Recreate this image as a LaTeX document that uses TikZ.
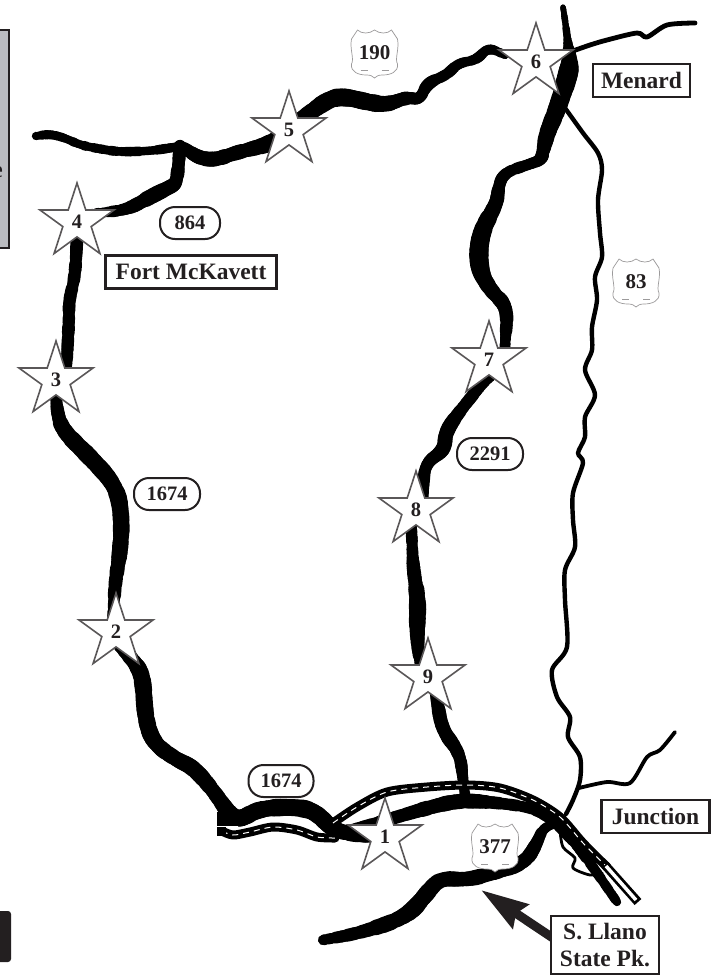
\documentclass[tikz,border=0pt]{standalone}
\usepackage{fontspec}
\setmainfont{Liberation Serif}
\usetikzlibrary{shapes.geometric,arrows.meta}
\definecolor{ink}{HTML}{231F20}
\definecolor{panel}{HTML}{BBBCC0}
\tikzset{
  site/.style={star,star points=5,star point ratio=2.618,minimum size=78pt,inner sep=0pt,
    draw=ink!75,line width=1.6pt,fill=white,text=ink,font=\bfseries\fontsize{20.5}{22}\selectfont},
  place/.style={rectangle,draw=ink,line width=2.4pt,fill=white,text=ink,inner sep=0pt,align=center,
    font=\bfseries\fontsize{23.5}{28}\selectfont},
  farm/.style={rectangle,rounded corners=15pt,draw=ink,line width=2pt,fill=white,text=ink,inner sep=0pt,
    minimum height=32pt,font=\bfseries\fontsize{20.5}{22}\selectfont},
  usnum/.style={text=ink,inner sep=0pt,font=\bfseries\fontsize{21}{22}\selectfont},
  shieldline/.style={draw=ink!45,line width=.7pt,fill=white},
  thinroad/.style={draw=black,line width=#1,line cap=round,line join=round},
  trackwhite/.style={draw=white,line width=1pt,dash pattern=on 6pt off 5pt},
}
\newcommand{\num}[1]{\raisebox{-2.5pt}{#1}}
% variable-width smooth road: list of x/y/w
\def\vempty{}
\pgfmathsetseed{7}
\newcommand{\vseg}[3]{%
  \pgfmathsetmacro\mox{(\ax+\bx)/2}\pgfmathsetmacro\moy{(\ay+\by)/2}\pgfmathsetmacro\mow{(\aw+\bw)/2}%
  \pgfmathsetmacro\mtx{(\bx+#1)/2}\pgfmathsetmacro\mty{(\by+#2)/2}\pgfmathsetmacro\mtw{(\bw+#3)/2}%
  \foreach \ii in {1,...,6}{%
    \pgfmathsetmacro\ta{(\ii-1)/6}\pgfmathsetmacro\tb{\ii/6}%
    \pgfmathsetmacro\xs{(1-\ta)*(1-\ta)*\mox+2*(1-\ta)*\ta*\bx+\ta*\ta*\mtx}%
    \pgfmathsetmacro\ys{(1-\ta)*(1-\ta)*\moy+2*(1-\ta)*\ta*\by+\ta*\ta*\mty}%
    \pgfmathsetmacro\xe{(1-\tb)*(1-\tb)*\mox+2*(1-\tb)*\tb*\bx+\tb*\tb*\mtx}%
    \pgfmathsetmacro\ye{(1-\tb)*(1-\tb)*\moy+2*(1-\tb)*\tb*\by+\tb*\tb*\mty}%
    \pgfmathsetmacro\wv{1.1*((1-\tb)*(1-\tb)*\mow+2*(1-\tb)*\tb*\bw+\tb*\tb*\mtw)+0.3+1.6*rnd}%
    \draw[black,line width=\wv pt,line cap=round] (\xs,\ys) -- (\xe,\ye);
  }%
}
\newcommand{\vroad}[1]{%
  \gdef\bx{}%
  \foreach \px/\py/\pw in {#1}{%
    \ifx\bx\vempty
      \xdef\ax{\px}\xdef\ay{\py}\xdef\aw{\pw}\xdef\bx{\px}\xdef\by{\py}\xdef\bw{\pw}%
    \else
      \vseg{\px}{\py}{\pw}%
      \xdef\ax{\bx}\xdef\ay{\by}\xdef\aw{\bw}\xdef\bx{\px}\xdef\by{\py}\xdef\bw{\pw}%
    \fi
  }%
  \vseg{\bx}{\by}{\bw}%
}
\newcommand{\shield}[4]{% name, x, y, text
  \begin{scope}[shift={(#2,#3)}]
    \path[shieldline] (-23,-15) .. controls (-21,-18) and (-19,-21) .. (-17,-24)
      .. controls (-13,-20) and (-5,-20) .. (0,-24)
      .. controls (5,-20) and (13,-20) .. (17,-24)
      .. controls (19,-21) and (21,-18) .. (23,-15)
      .. controls (25,-5) and (20,5) .. (23,10)
      .. controls (24,18) and (16,21) .. (8,21)
      .. controls (4,21) and (2,22) .. (0,24)
      .. controls (-2,22) and (-4,21) .. (-8,21)
      .. controls (-16,21) and (-24,18) .. (-23,10)
      .. controls (-20,5) and (-25,-5) .. (-23,-15) -- cycle;
    \draw[ink!45,line width=.8pt] (-14,16) -- (-7,16) (7,16) -- (14,16);
    \node[usnum] (#1) at (0,-1) {#4};
  \end{scope}
}
\begin{document}
\begin{tikzpicture}[x=1pt,y=-1pt]
\useasboundingbox (0,0) rectangle (715,975);
\fill[white] (0,0) rectangle (715,975);
% side panel and bar
\draw[ink,line width=2pt,fill=panel] (-4,30) rectangle (9,248);
\node[text=ink,inner sep=0pt,anchor=east,font=\bfseries\fontsize{23.5}{28}\selectfont] (cut) at (3,172) {e};
\fill[ink,rounded corners=3pt] (-6,911) rectangle (11,962);
% thin roads
\draw[thinroad=4.4pt] plot[smooth,tension=.5] coordinates {(565,108)(583,133)(598,153)(602,170)(598,200)(600,233)(602,257)(595,277)(597,300)(592,327)(592,350)(585,370)(595,395)(585,417)(585,437)(578,453)(583,463)(573,493)(573,520)(575,547)(565,570)(565,600)(567,647)(552,670)(557,697)(570,717)(568,737)(580,757)(580,780)(573,800)(566,814)};
\draw[thinroad=3.8pt] plot[smooth,tension=.5] coordinates {(579,788)(607,782)(630,783)(647,757)(660,750)(675,732)};
\draw[thinroad=4.8pt] plot[smooth,tension=.5] coordinates {(570,52)(590,45)(607,40)(637,33)(647,37)(667,25)(695,23)};
\draw[thinroad=2.8pt] plot[smooth,tension=.5] coordinates {(560,830)(563,847)(575,858)(573,868)(590,875)(602,873)};
% US 190
\vroad{36/136/6, 50/134/7, 65/138/7, 80/145/7, 100/149/7, 120/152/7, 150/151/7, 170/148/7, 182/146/8, 190/152/10, 200/158/12, 215/160/12, 235/153/12, 255/148/12, 272/143/14, 303/118/13, 330/98/15, 347/97/15, 367/102/15, 387/105/13, 407/97/11, 420/100/9, 427/83/10, 447/75/9, 458/63/8, 477/60/8, 488/47/9, 505/55/6}
% RM 864
\vroad{180/146/10, 177/183/11, 170/187/12, 150/197/13, 127/210/10, 97/213/8, 85/216/8}
% left road
\vroad{77/225/9, 77/240/10, 75/277/10, 69/300/10, 69/320/10, 67/357/10, 67/370/8}
\vroad{56/395/9, 57/410/10, 62/430/13, 90/457/15, 117/487/14, 122/520/14, 120/553/13, 115/583/11, 113/620/9}
\vroad{118/645/8, 135/662/13, 143/677/14, 145/717/14, 153/743/14, 177/760/12, 193/767/14, 213/790/12, 230/815/14, 240/820/14, 260/808/14, 300/807/15, 317/813/14, 333/830/14, 357/835/12, 372/838/8}
\fill[black] (217,812) rectangle (245,826);
% east road through 6, 7, 8, 9
\vroad{563/7/4, 565/20/5, 568/43/6, 570/63/14, 568/75/18, 557/110/15, 547/133/14, 543/152/11, 541/160/10, 530/164/9, 503/173/9, 498/190/10, 497/203/12, 480/233/15, 478/267/17, 490/290/12, 508/307/12, 505/343/9, 505/355/8}
\vroad{498/370/6, 483/383/9, 463/407/10, 445/432/13, 445/450/12, 425/463/10, 423/490/10, 423/500/9}
\vroad{411/525/9, 412/540/9, 413/567/10, 418/600/14, 417/627/14, 418/650/10, 420/665/8}
\vroad{432/680/8, 437/700/10, 442/730/12, 460/753/11, 463/780/9, 465/795/8}
% main arc
\vroad{345/832/10, 397/817/10, 427/808/12, 460/800/13, 500/803/10, 533/808/9, 553/820/9, 573/840/9, 593/867/8, 617/902/7}
% S. Llano road
\vroad{323/940/8, 360/933/11, 407/917/14, 427/893/14, 440/878/12, 467/880/13, 493/873/12, 525/863/12, 537/843/11, 543/828/8, 557/823/6}
% double tracks
\draw[thinroad=9pt] plot[smooth,tension=.5] coordinates {(333,823)(357,807)(387,792)(427,787)(467,785)(500,788)(533,800)(560,817)(583,843)(607,867)};
\draw[trackwhite] plot[smooth,tension=.5] coordinates {(333,823)(357,807)(387,792)(427,787)(467,785)(500,788)(533,800)(560,817)(583,843)(607,867)};
\draw[thinroad=9pt] plot[smooth,tension=.5] coordinates {(222,831)(233,835)(250,832)(273,827)(297,830)(317,837)(335,838)};
\draw[trackwhite] plot[smooth,tension=.5] coordinates {(222,831)(233,835)(250,832)(273,827)(297,830)(317,837)(335,838)};
\fill[black] (217,827) rectangle (226,836);
\draw[white,line width=1.2pt] (217,826.5) -- (238,826.5);
\draw[black,line width=9pt] (605,865) -- (638,902);
\draw[white,line width=3.5pt] (606,866) -- (636,900);
% stars
\node[site] (s1) at (385,837) {\num{1}};
\node[site] (s2) at (116,632) {\num{2}};
\node[site] (s3) at (56,380) {\num{3}};
\node[site] (s4) at (77,222) {\num{4}};
\node[site] (s5) at (289,130) {\num{5}};
\node[site] (s6) at (536,62) {\num{6}};
\node[site] (s7) at (489,360) {\num{7}};
\node[site] (s8) at (416,510) {\num{8}};
\node[site] (s9) at (428,677) {\num{9}};
% highway shields
\shield{h190}{374.5}{54}{190}
\shield{h83}{636}{283}{83}
\shield{h377}{495}{848}{377}
% farm roads
\node[farm,minimum width=60pt] (f864) at (190,223) {864};
\node[farm,minimum width=66pt] (f1674a) at (167,494) {1674};
\node[farm,minimum width=65pt] (f1674b) at (281,781) {1674};
\node[farm,minimum width=66pt] (f2291) at (490,454) {2291};
% places
\coordinate (tip) at (481,890);
\node[place,minimum width=171pt,minimum height=33pt] (fort) at (191,272) {Fort McKavett};
\node[place,minimum width=97pt,minimum height=33pt] (menard) at (641.5,80.5) {Menard};
\node[place,minimum width=108pt,minimum height=33pt] (junction) at (655.5,816.5) {Junction};
\draw[ink,line width=9pt,-{Stealth[length=47pt,width=28pt,inset=5pt]}] (553,938) -- (tip);
\node[place,minimum width=108pt,minimum height=58pt,font=\bfseries\fontsize{23.5}{27}\selectfont] (llano) at (605,945) {\raisebox{-1.5pt}{S. Llano}\\\raisebox{-1.5pt}{State Pk.}};
\end{tikzpicture}
\end{document}
